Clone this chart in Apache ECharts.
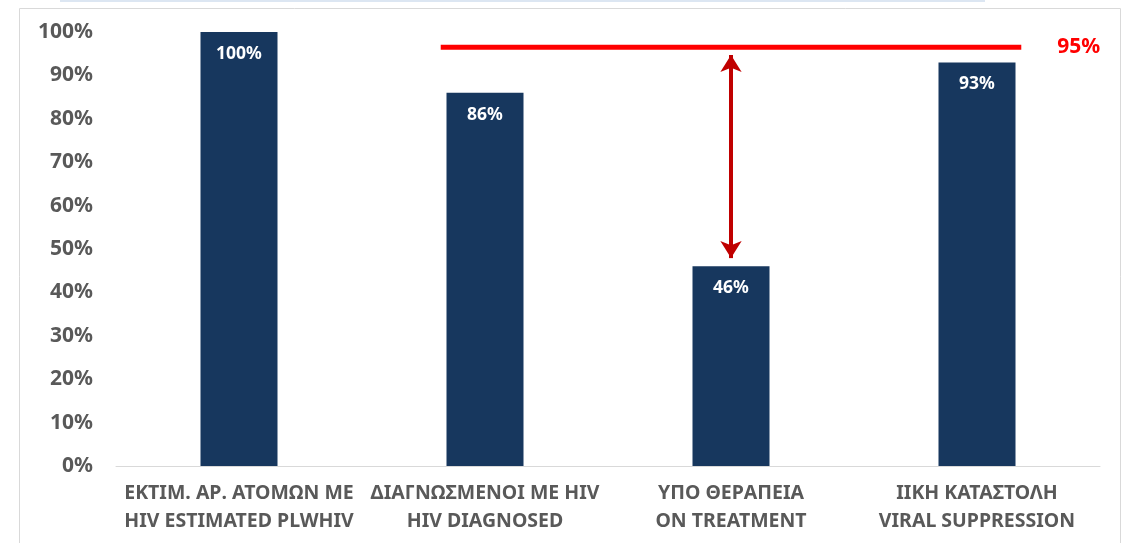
<!DOCTYPE html>
<html>
<head>
<meta charset="utf-8">
<script src="https://cdn.jsdelivr.net/npm/echarts@6/dist/echarts.min.js"></script>
<style>
  html, body { margin: 0; padding: 0; background: #fff; }
  #chart { width: 1129px; height: 543px; }
</style>
</head>
<body>
<div id="chart"></div>
<script>
// cascade categories (greek / english)
const categories = [
  'ΕΚΤΙΜ. ΑΡ. ΑΤΟΜΩΝ ΜΕ\nHIV ESTIMATED PLWHIV',
  'ΔΙΑΓΝΩΣΜΕΝΟΙ ΜΕ HIV\nHIV DIAGNOSED',
  'ΥΠΟ ΘΕΡΑΠΕΙΑ\nON TREATMENT',
  'ΙΙΚΗ ΚΑΤΑΣΤΟΛΗ\nVIRAL SUPPRESSION'
]
const values = [100, 86, 46, 93]
const yTicks = [0, 10, 20, 30, 40, 50, 60, 70, 80, 90, 100]
// target line, drawn slightly above 95 in the original
const targetLabel = '95%'
const targetLevel = 96.5
const targetSpan = [1.32, 3.68] // in category units on the hidden value axis
// gap arrow on the treatment bar
const arrowFrom = 47.9
const arrowTo = 94.7

const chart = echarts.init(document.getElementById('chart'))
const font = '"Noto Sans", sans-serif'

const option = {
  animation: false,
  grid: { left: 116, right: 29, top: 32, bottom: 77 },
  graphic: [
    {
      type: 'rect',
      shape: { x: 19.5, y: 8.5, width: 1101, height: 545 },
      style: { fill: 'none', stroke: '#d9d9d9', lineWidth: 1 },
      silent: true
    },
    {
      type: 'rect',
      shape: { x: 60, y: 0, width: 925, height: 2 },
      style: { fill: '#dce6f2' },
      silent: true
    }
  ],
  xAxis: [
    {
      type: 'category',
      data: categories,
      axisLine: { lineStyle: { color: '#d9d9d9', width: 1 } },
      axisTick: { show: false },
      axisLabel: {
        interval: 0,
        color: '#595959',
        fontFamily: font,
        fontWeight: 'bold',
        fontSize: 19.5,
        lineHeight: 28,
        margin: 13
      }
    },
    {
      type: 'value',
      min: 0,
      max: 4,
      show: false
    }
  ],
  yAxis: {
    type: 'value',
    min: 0,
    max: 100,
    interval: 10,
    axisLine: { show: false },
    axisTick: { show: false },
    splitLine: { show: false },
    axisLabel: {
      color: '#595959',
      fontFamily: font,
      fontWeight: 'bold',
      fontSize: 21,
      margin: 23,
      customValues: yTicks,
      formatter: function (v) { return v + '%' }
    }
  },
  series: [
    {
      type: 'bar',
      data: values,
      barWidth: 77,
      itemStyle: { color: '#17375e' },
      label: {
        show: true,
        position: 'insideTop',
        distance: 13,
        color: '#fff',
        fontFamily: font,
        fontWeight: 'bold',
        fontSize: 17.5,
        formatter: '{c}%'
      },
      markLine: {
        silent: true,
        symbol: ['arrow', 'arrow'],
        symbolSize: [16, 17],
        lineStyle: { color: '#c00000', width: 4, type: 'solid' },
        label: { show: false },
        data: [[
          { xAxis: 2, yAxis: arrowFrom },
          { xAxis: 2, yAxis: arrowTo }
        ]]
      }
    },
    {
      type: 'line',
      xAxisIndex: 1,
      data: [[targetSpan[0], targetLevel], [targetSpan[1], targetLevel]],
      symbol: 'none',
      lineStyle: { color: '#ff0000', width: 5 },
      endLabel: {
        show: true,
        formatter: targetLabel,
        color: '#ff0000',
        fontFamily: font,
        fontWeight: 'bold',
        fontSize: 21,
        distance: 36
      }
    }
  ]
}
chart.setOption(option)
</script>
</body>
</html>
